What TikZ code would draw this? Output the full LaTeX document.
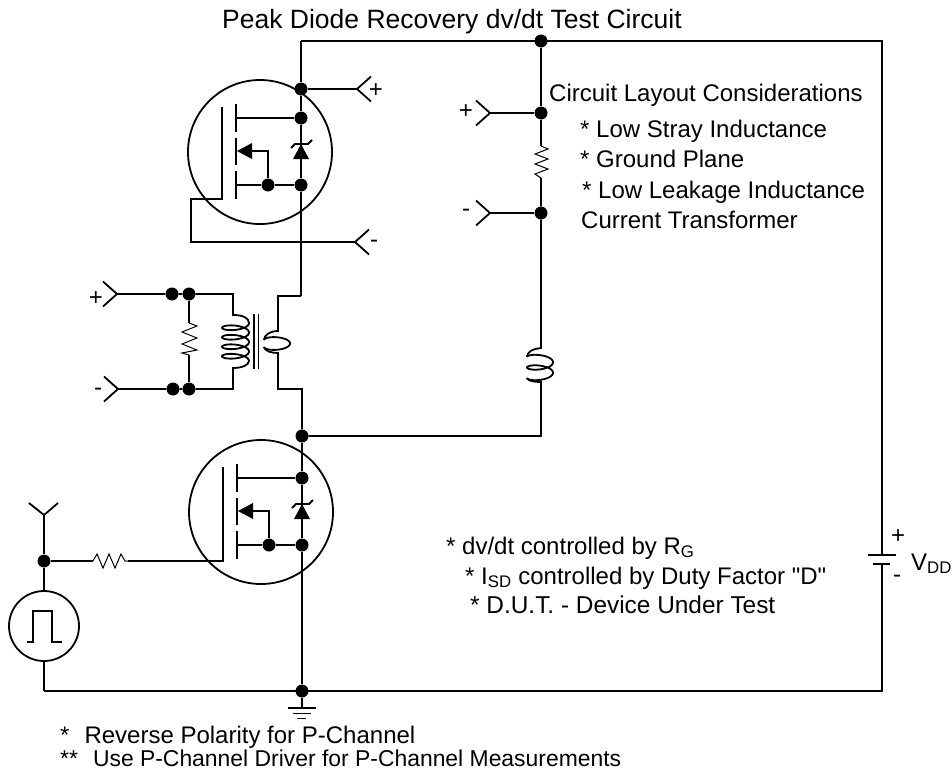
\documentclass[tikz,border=0pt]{standalone}
\usepackage{fontspec}
\setmainfont{Liberation Sans}
\newfontfamily\plainf{Liberation Sans}
\newcommand{\coildraw}[7]{% cx rx ry y0 y1 t0 t1
  \draw[wire] plot[variable=\t,domain=#6:#7,samples=220,smooth] ({#1+#2*cos(\t)},{#4-#3*sin(#6)+(#5-#3*sin(#7)-#4+#3*sin(#6))*((\t-(#6))/((#7)-(#6)))+#3*sin(\t)});}
\tikzset{
  wire/.style={line width=1.8pt,black},
  thinw/.style={line width=1pt,black,line join=miter},
  dot/.style={circle,fill=black,draw=none,minimum size=13pt,inner sep=0pt},
  lbl/.style={anchor=base west,inner sep=0pt,font=\fontsize{24}{28}\selectfont,text=black},
  pm/.style={anchor=center,inner sep=0pt,font=\fontsize{24}{28}\selectfont,text=black},
  mosfet/.pic={
    \draw[wire] (0,0) circle[radius=72];
    \draw[wire] (-24,-48) -- (-24,-20);
    \draw[wire] (-24,-14) -- (-24,13);
    \draw[wire] (-24,19) -- (-24,47);
    \node[dot] (-d) at (41,-34) {};
    \node[dot] (-s) at (41,33) {};
    \node[dot] (-b) at (8,33) {};
    \draw[wire] (-24,-34) -- (-d);
    \draw[wire] (-24,33) -- (-b) -- (-s);
    \draw[wire] (-b) -- (8,-1) -- (-10,-1);
    \fill (-23,-1) -- (-8,-9) -- (-8,7) -- cycle;
    \draw[wire] (-d) -- (-s);
    \fill (41,-8) -- (33,7) -- (49,7) -- cycle;
    \draw[wire] (31,-4) -- (35,-8) -- (48,-8) -- (52,-12);
  },
  chev/.pic={
    \draw[wire,line join=miter] (-14,-12.5) -- (0,0) -- (-14,12.5);
  },
  chevl/.pic={
    \draw[wire,line join=miter] (14,-12.5) -- (0,0) -- (14,12.5);
  }
}
\begin{document}
\begin{tikzpicture}[x=1pt,y=-1pt]
\useasboundingbox (0,0) rectangle (952,771);
% top rail and junctions
\node[dot] (top) at (541,41) {};
\coordinate (railTL) at (301,41);
\coordinate (railTR) at (882,41);
\coordinate (railBL) at (44,691);
\coordinate (railBR) at (882,691);
\node[dot] (gnd) at (302,691) {};
\node[dot] (mid) at (302,436) {};
% MOSFETs
\pic (q1) at (260,152) {mosfet};
\pic (q2) at (261,512) {mosfet};
\coordinate (batA) at (882,555);
\coordinate (batB) at (882,564);
\draw[wire] (railTL) -- (railTR) -- (batA);
% battery
\draw[wire] (868,555) -- (896,555);
\draw[wire] (873,564) -- (890,564);
\draw[wire] (batB) -- (railBR) -- (railBL);
% upper drain line
\node[dot] (q1top) at (301,89) {};
\coordinate (secT) at (301,296);
\draw[wire] (railTL) -- (q1top) -- (q1-d);
\draw[wire] (q1-s) -- (secT);
% secondary
\coordinate (s1) at (278,296);
\coordinate (s2) at (278,331);
\coordinate (s3) at (278,353);
\coordinate (s4) at (278,389);
\coordinate (s5) at (302,389);
\draw[wire] (secT) -- (s1) -- (s2) .. controls (270,331) and (264,335) .. (264,340);
\coildraw{277}{13}{4.5}{340}{347}{180}{540}
\draw[wire] (264,347) .. controls (265,351) and (271,353) .. (s3) -- (s4) -- (s5) -- (mid);
% core
\draw[wire] (254,314) -- (254,369);
\draw[wire] (258.5,314) -- (258.5,369);
% lower drain
\draw[wire] (mid) -- (q2-d);
\draw[wire] (q2-d) -- (q2-s);
\draw[wire] (q2-s) -- (gnd);
% ground
\coordinate (g0) at (302,708);
\draw[wire] (gnd) -- (g0);
\draw[wire] (288,708) -- (316,708);
\draw[wire] (293,713.5) -- (311,713.5);
\draw[wire] (297,718.5) -- (306,718.5);
% top FET gate
\coordinate (q1gt) at (222,107);
\coordinate (q1gb) at (222,199);
\coordinate (t1c) at (357,89);
\pic (t1) at (t1c) {chevl};
\draw[wire] (q1top) -- (t1c);
\coordinate (t2c) at (355,242);
\pic (t2) at (t2c) {chevl};
\coordinate (t2l) at (191,242);
\coordinate (t2u) at (191,199);
\draw[wire] (q1gt) -- (q1gb) -- (t2u) -- (t2l) -- (t2c);
\node[pm] (pl1) at (376,91) {+};
\node[pm] (mi1) at (374,244) {-};
% right branch
\node[dot] (r1) at (541,113) {};
\node[dot] (r2) at (541,213) {};
\coordinate (rc1) at (541,348);
\coordinate (rc2) at (541,382);
\coordinate (rc3) at (541,436);
\draw[wire] (top) -- (r1) -- (541,146);
\draw[thinw] (541,146) -- (548,149) -- (535,154) -- (548,159) -- (535,164) -- (548,169) -- (535,174) -- (541,178);
\draw[wire] (541,178) -- (r2) -- (rc1) .. controls (532,349) and (527,352) .. (527,357);
\coildraw{540}{13}{4.5}{357}{378}{180}{900}
\draw[wire] (527,378) .. controls (528,381) and (534,382) .. (rc2) -- (rc3) -- (mid);
\coordinate (t3c) at (490,113);
\coordinate (t4c) at (490,213);
\pic (t3) at (t3c) {chev};
\pic (t4) at (t4c) {chev};
\draw[wire] (t3c) -- (r1);
\draw[wire] (t4c) -- (r2);
\node[pm] (pl3) at (466,112) {+};
\node[pm] (mi4) at (466,213) {-};
% transformer primary side
\coordinate (t5c) at (117,294);
\coordinate (t6c) at (118,389);
\pic (t5) at (t5c) {chev};
\pic (t6) at (t6c) {chev};
\node[dot] (a1) at (172,294) {};
\node[dot] (a2) at (189,294) {};
\node[dot] (b1) at (173,389) {};
\node[dot] (b2) at (189,389) {};
\coordinate (p1) at (233,294);
\coordinate (p2) at (233,315);
\coordinate (p3) at (233,368);
\coordinate (p4) at (233,389);
\draw[wire] (t5c) -- (a1) -- (a2) -- (p1) -- (p2) .. controls (243,315) and (249,318) .. (249,323);
\coildraw{235.5}{13.5}{4.5}{323}{361}{0}{1440}
\draw[wire] (249,361) .. controls (249,365) and (242,368) .. (p3) -- (p4) -- (b2) -- (b1) -- (t6c);
\draw[wire] (a2) -- (189,323);
\draw[thinw] (189,323) -- (197,326) -- (182,332) -- (197,338) -- (182,344) -- (197,350) -- (182,353) -- (189,355);
\draw[wire] (189,355) -- (b2);
\node[pm] (pl5) at (96,299) {+};
\node[pm] (mi6) at (98,392) {-};
% gate drive
\node[dot] (g1) at (44,561) {};
\coordinate (gr) at (128,561);
\coordinate (q2gt) at (223,467);
\coordinate (q2gb) at (223,561);
\draw[wire] (q2gt) -- (q2gb) -- (gr);
\draw[thinw] (128,561) -- (125,561) -- (121,554) -- (115,568) -- (109,554) -- (103,568) -- (97,554) -- (93,561);
\draw[wire] (93,561) -- (g1);
\coordinate (t7c) at (44,515);
\draw[wire,line join=miter] (29,503) -- (t7c) -- (58,503);
\node[draw,wire,circle,minimum size=70pt,inner sep=0pt] (pulse) at (44,626) {};
\draw[wire] (t7c) -- (g1) -- (pulse);
\draw[wire] (pulse) -- (railBL);
\draw[line width=1.4pt] (27,642) -- (33,642) -- (33,611) -- (52,611) -- (52,642) -- (62,642);
% texts
\node[lbl,font=\fontsize{26.5}{30}\selectfont] (title) at (222,28) {Peak Diode Recovery dv/dt Test Circuit};
\node[lbl] (c0) at (549,101) {Circuit Layout Considerations};
\node[lbl] (c1) at (580,137) {* Low Stray Inductance};
\node[lbl] (c2) at (580,167) {* Ground Plane};
\node[lbl] (c3) at (582,198) {* Low Leakage Inductance};
\node[lbl] (c4) at (581,228) {Current Transformer};
\node[lbl] (n1) at (446,554) {* dv/dt controlled by R\textsubscript{G}};
\node[lbl] (n2) at (465,584) {* I\textsubscript{SD} controlled by Duty Factor {\plainf"}D{\plainf"}};
\node[lbl,font=\fontsize{24.4}{28}\selectfont] (n3) at (470,613) {* D.U.T. - Device Under Test};
\node[lbl] (f1) at (60,743) {*\hspace{15pt}Reverse Polarity for P-Channel};
\node[lbl,font=\fontsize{22.9}{26}\selectfont] (f2) at (60,766) {**\hspace{15pt}Use P-Channel Driver for P-Channel Measurements};
\node[pm] (bp) at (898,537) {+};
\node[pm] (bm) at (897,579) {-};
\node[lbl] (vdd) at (911,570) {V\textsubscript{DD}};
\end{tikzpicture}
\end{document}
